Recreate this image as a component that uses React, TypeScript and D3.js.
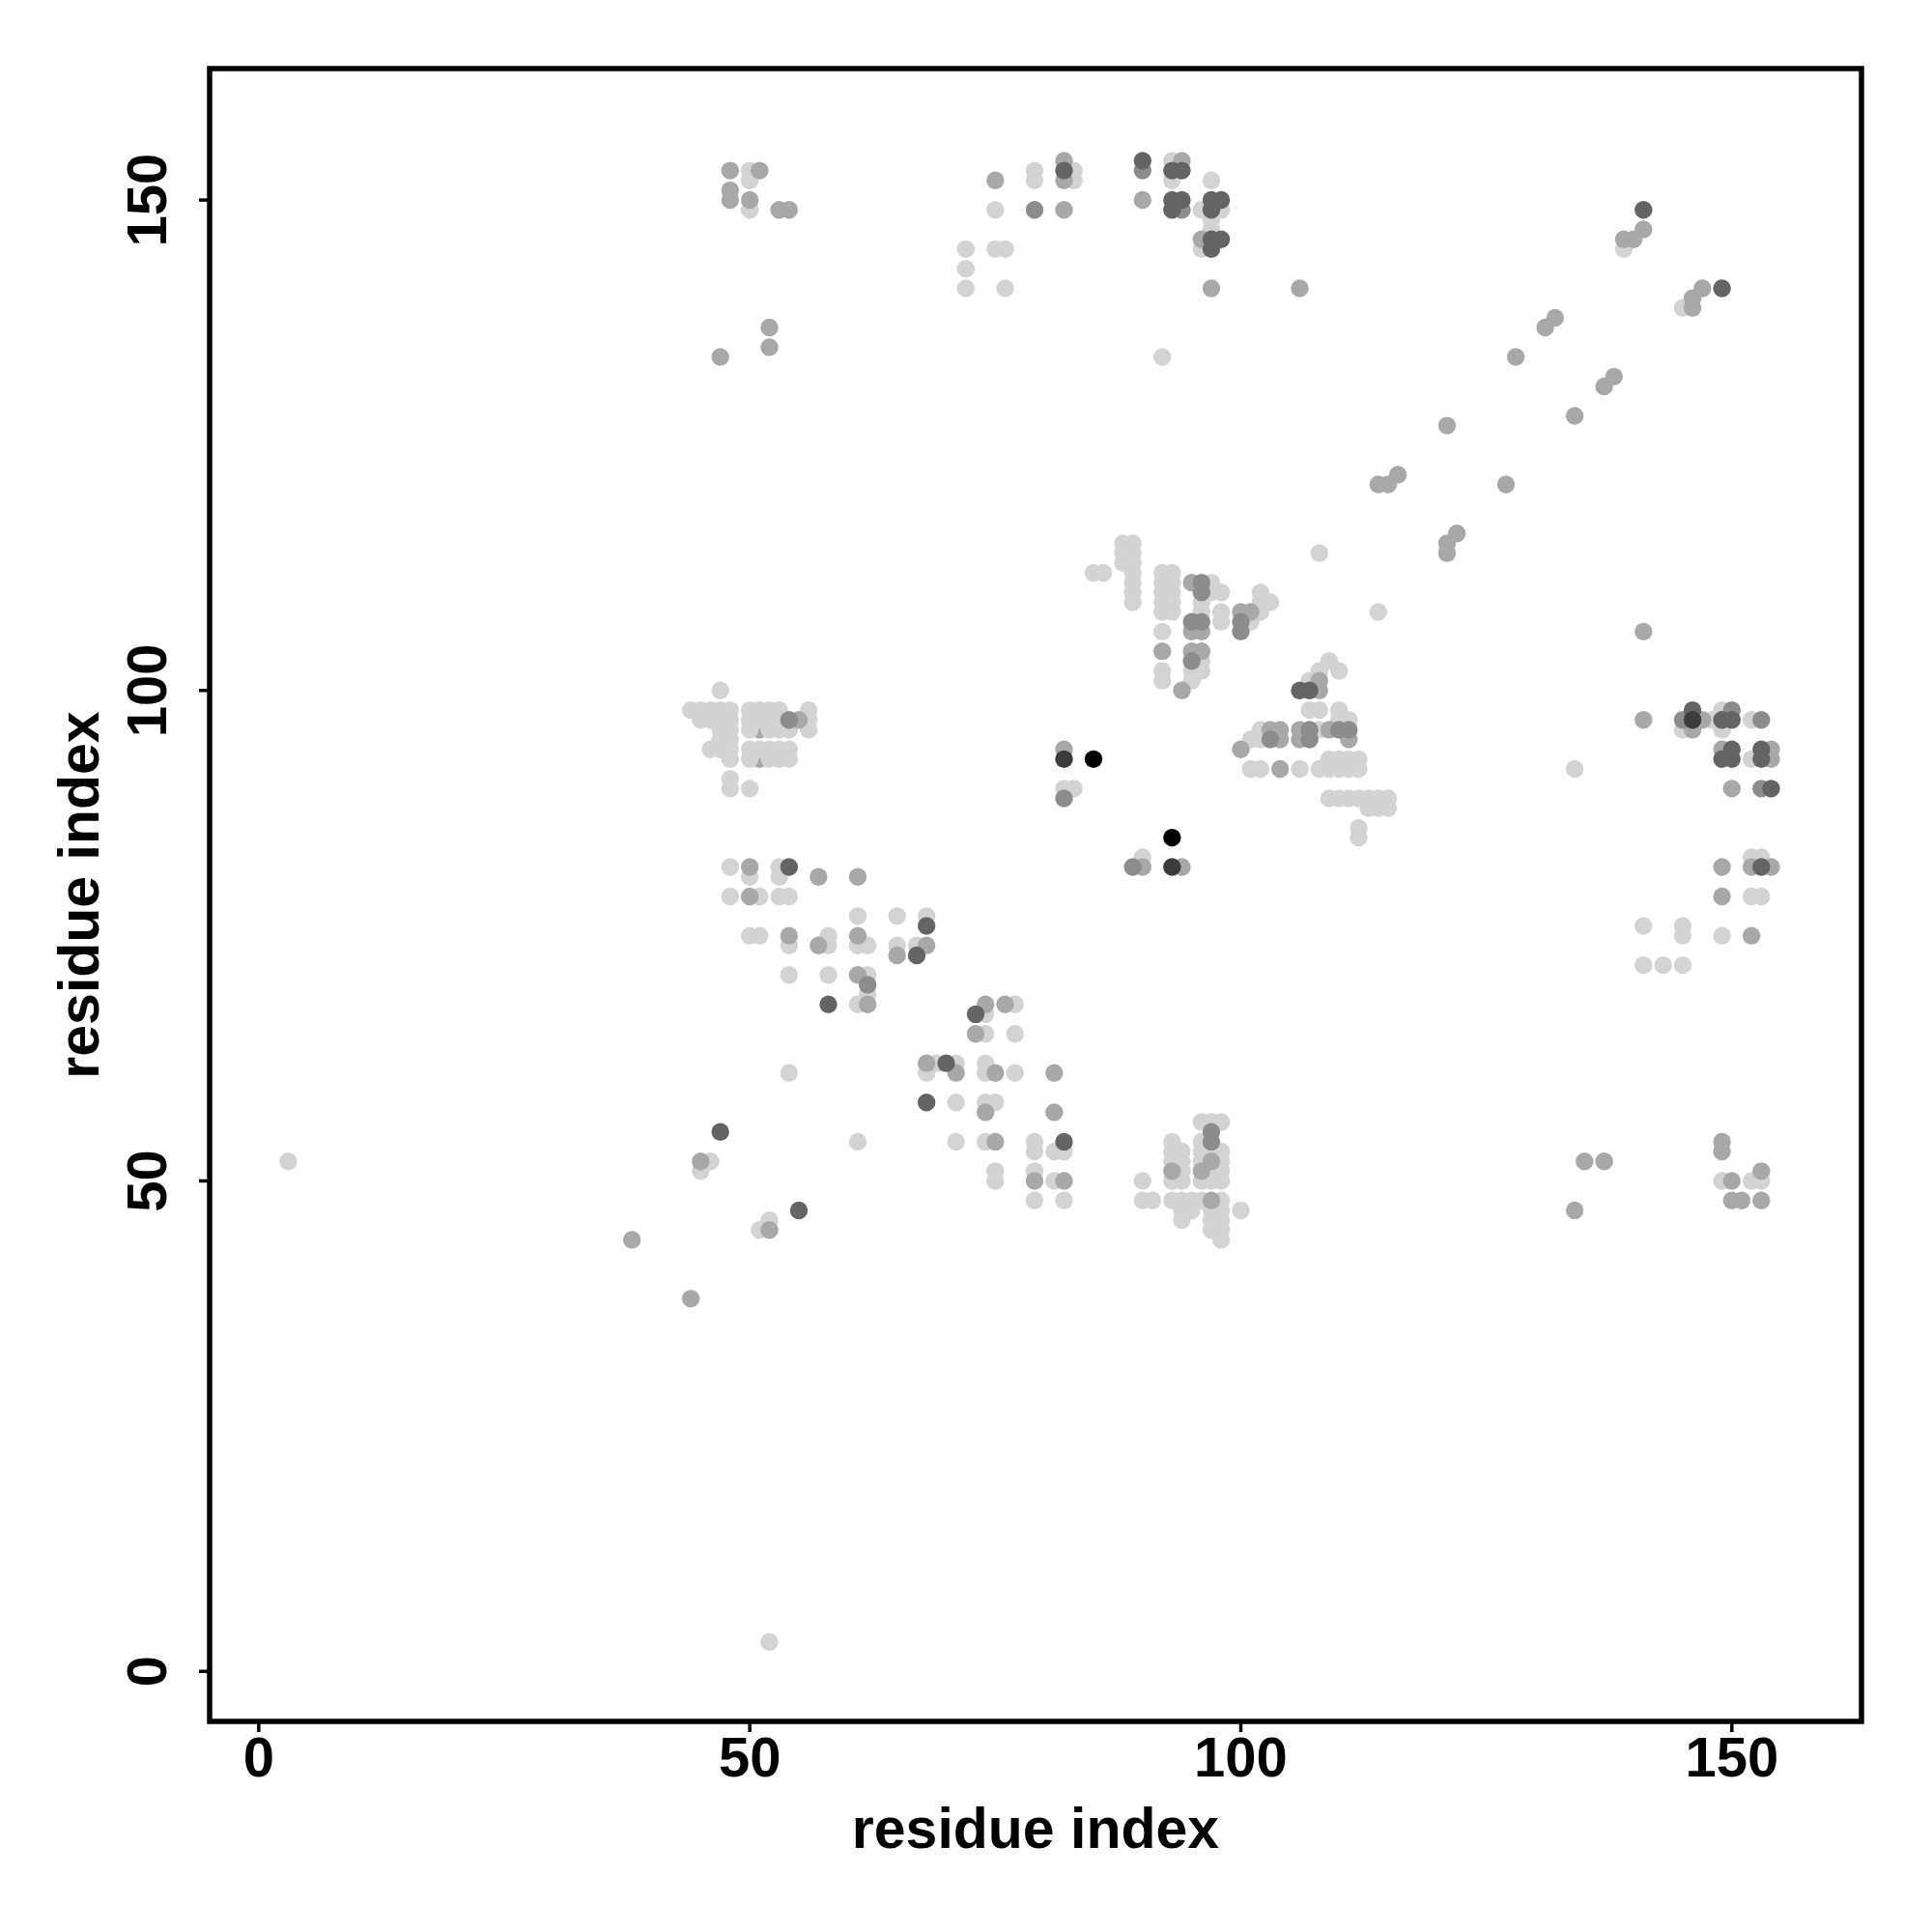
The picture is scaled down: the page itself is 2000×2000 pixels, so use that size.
import React from "react";
import * as d3 from "d3";

type P = [number, number];

// contact points grouped by grey level (x residue, y residue)
// medium points that sit underneath the light ones
const mediumUnderPts: P[] = [[51,96],[51,93]];

const lightPts: P[] = [
  [50,153],[50,152],[50,149],[75,149],[72,145],[75,145],[76,145],[72,143],[72,141],[76,141],
  [79,153],[79,152],[83,153],[83,152],[93,154],[93,152],[96,149],[97,152],[98,149],[97,148],[97,147],[96,145],[92,134],
  [139,145],[145,139],
  [134,92],[148,97],[145,96],[149,98],[149,96],[152,97],[152,93],[152,83],[153,83],[152,79],[153,79],
  [141,76],[145,76],[145,75],[149,75],[141,72],[143,72],[145,72],[149,50],[152,50],[153,50],
  [88,115],[88,114],[88,113],[89,115],[89,114],[89,113],[89,112],[89,111],[89,110],[89,109],[85,112],[86,112],
  [92,112],[92,111],[92,110],[92,109],[92,108],[93,112],[93,111],[93,110],[93,109],[93,108],[92,106],[92,102],[92,101],
  [97,111],[97,110],[98,110],[96,109],[96,108],[98,108],[98,107],[101,107],[102,110],[102,109],[102,108],[103,109],[96,103],[96,102],[95,102],[95,101],
  [108,114],[114,108],[109,103],[108,102],[110,102],[107,101],[107,98],[108,98],[110,98],[111,97],[110,97],
  [101,95],[102,96],[102,95],[108,96],
  [109,93],[110,93],[111,93],[112,93],[109,92],[110,92],[111,92],[112,92],[101,92],[102,92],[106,92],[108,92],
  [109,89],[110,89],[111,89],[112,89],[113,89],[114,89],[115,89],[113,88],[114,88],[115,88],[112,86],[112,85],
  [82,90],[83,90],[90,83],
  [47,100],[44,98],[45,98],[46,98],[47,98],[48,98],[50,98],[51,98],[52,98],[53,98],[56,98],
  [45,97],[46,97],[47,97],[48,97],[50,97],[51,97],[52,97],[53,97],[56,97],
  [47,96],[48,96],[50,96],[52,96],[53,96],[54,96],[56,96],
  [47,95],[48,95],
  [46,94],[47,94],[48,94],[50,94],[51,94],[52,94],[53,94],[54,94],
  [48,93],[50,93],[52,93],[53,93],[54,93],
  [48,91],[48,90],[50,90],
  [48,82],[50,81],[53,82],[53,81],[48,79],[51,79],[53,79],[54,79],[61,77],[65,77],[68,77],
  [50,75],[51,75],[54,74],[58,75],[58,74],[61,74],[62,74],[65,74],[67,74],[54,71],[58,71],[62,71],[62,69],[61,68],
  [74,67],[77,68],[74,65],[77,65],[69,62],[68,61],[71,62],[74,62],[74,61],[77,61],[71,58],[74,58],[75,58],[54,61],
  [61,54],[71,54],[74,54],[75,51],[75,50],[46,52],[45,51],[52,46],[51,45],
  [79,54],[79,53],[81,53],[82,53],[79,51],[81,50],[79,48],[82,48],[90,50],[90,48],[91,48],
  [96,56],[97,56],[98,56],[93,54],[96,54],[93,53],[94,53],[96,53],[97,53],[98,53],[93,52],[94,52],[96,52],[98,52],
  [94,51],[97,51],[98,51],[93,50],[94,50],[96,50],[97,50],[98,50],[93,48],[94,48],[95,48],[96,48],[98,48],[100,47],
  [94,47],[95,47],[97,47],[98,47],[94,46],[97,46],[98,46],[97,45],[98,45],[98,44],
  [3,52],[52,3],
];

const mediumPts: P[] = [
  [48,153],[51,153],[48,151],[48,150],[50,150],[53,149],[54,149],[52,137],[52,135],[47,134],[75,152],
  [82,154],[82,152],[82,149],[90,150],[94,154],[96,146],[97,141],[106,141],[114,121],[115,121],[116,122],
  [141,147],[140,146],[139,146],[147,141],[146,140],[146,139],[132,138],[131,137],[128,134],[138,132],[137,131],
  [134,128],[121,127],[127,121],[122,116],[121,115],[121,114],
  [141,106],[141,97],[147,97],[146,96],[149,94],[154,94],[154,93],[150,90],[149,82],[152,82],[154,82],[149,79],
  [152,75],[135,52],[137,52],[134,47],[149,54],[149,53],[150,50],[153,51],[150,48],[151,48],[153,48],
  [92,104],[95,111],[95,106],[96,106],[100,108],[101,108],[95,104],[96,104],[94,100],[108,101],[108,100],[100,94],
  [103,96],[104,96],[104,95],[106,96],[109,96],[106,95],[111,95],[104,92],[82,94],[90,82],[94,82],
  [55,97],[50,82],[57,81],[61,81],[50,79],
  [54,75],[57,74],[61,75],[65,73],[68,74],[61,71],[62,68],[74,68],[76,68],[73,65],[68,62],[71,61],[75,61],[81,61],
  [74,57],[81,57],[75,54],[45,52],[52,45],[38,44],[44,38],
  [79,50],[82,50],[97,52],[93,51],[96,51],[97,48],
];

const grayPts: P[] = [
  [79,149],[90,153],[94,149],[145,97],[150,98],[153,97],[153,90],[96,111],[96,110],[95,107],[96,107],[95,103],
  [100,107],[100,106],[103,95],[107,96],[110,96],[111,96],[107,95],[82,89],[89,82],[54,97],[62,70],[97,55],[97,54],
];

const darkPts: P[] = [
  [82,153],[90,154],[93,153],[94,153],[93,150],[94,150],[93,149],[97,150],[98,150],[97,149],[97,146],[98,146],[97,145],
  [141,149],[149,141],
  [146,98],[149,97],[150,97],[150,94],[149,93],[150,93],[153,94],[153,93],[154,90],[153,82],
  [106,100],[107,100],
  [54,82],[68,76],[67,73],[58,68],[73,67],[70,62],[68,58],[47,55],[55,47],[82,54],
];

const veryDarkPts: P[] = [[146,97],[82,93],[93,82]];
const blackPts: P[] = [[85,93],[93,85]];

const xTicks = [0, 50, 100, 150];
const yTicks = [0, 50, 100, 150];
const xLabel = "residue index";
const yLabel = "residue index";

const groups: { pts: P[]; color: string }[] = [
  { pts: mediumUnderPts, color: "#a8a8a8" },
  { pts: lightPts, color: "#d3d3d3" },
  { pts: mediumPts, color: "#a8a8a8" },
  { pts: grayPts, color: "#8c8c8c" },
  { pts: darkPts, color: "#646464" },
  { pts: veryDarkPts, color: "#3c3c3c" },
  { pts: blackPts, color: "#000000" },
];

const FONT = "'Liberation Sans', Arial, Helvetica, sans-serif";

export default function App() {
  const left = 217, right = 1927, top = 71, bottom = 1782;
  const x = d3.scaleLinear().domain([-5.0, 163.2]).range([left, right]);
  const y = d3.scaleLinear().domain([-5.1, 163.4]).range([bottom, top]);
  const r = 9.2;
  return (
    <svg
      width={2000}
      height={2000}
      style={{ position: "absolute", left: 0, top: 0, background: "#fff" }}
    >
      <rect x={0} y={0} width={2000} height={2000} fill="#fff" />
      {groups.map((g, gi) => (
        <g key={gi} fill={g.color}>
          {g.pts.map((p, i) => (
            <circle key={i} cx={x(p[0])} cy={y(p[1])} r={r} />
          ))}
        </g>
      ))}
      <rect
        x={left}
        y={top}
        width={right - left}
        height={bottom - top}
        fill="none"
        stroke="#000"
        strokeWidth={5.5}
      />
      {xTicks.map((t) => (
        <g key={"x" + t}>
          <line x1={x(t)} x2={x(t)} y1={bottom} y2={bottom + 11} stroke="#000" strokeWidth={3.5} />
          <text
            x={x(t)}
            y={1839}
            textAnchor="middle"
            fontFamily={FONT}
            fontWeight="bold"
            fontSize={58}
          >
            {t}
          </text>
        </g>
      ))}
      {yTicks.map((t) => (
        <g key={"y" + t}>
          <line x1={left - 11} x2={left} y1={y(t)} y2={y(t)} stroke="#000" strokeWidth={3.5} />
          <text
            transform={`translate(172,${y(t)}) rotate(-90)`}
            textAnchor="middle"
            fontFamily={FONT}
            fontWeight="bold"
            fontSize={58}
          >
            {t}
          </text>
        </g>
      ))}
      <text
        x={(left + right) / 2}
        y={1913}
        textAnchor="middle"
        fontFamily={FONT}
        fontWeight="bold"
        fontSize={59}
      >
        {xLabel}
      </text>
      <text
        transform={`translate(102,${(top + bottom) / 2}) rotate(-90)`}
        textAnchor="middle"
        fontFamily={FONT}
        fontWeight="bold"
        fontSize={59}
      >
        {yLabel}
      </text>
    </svg>
  );
}
